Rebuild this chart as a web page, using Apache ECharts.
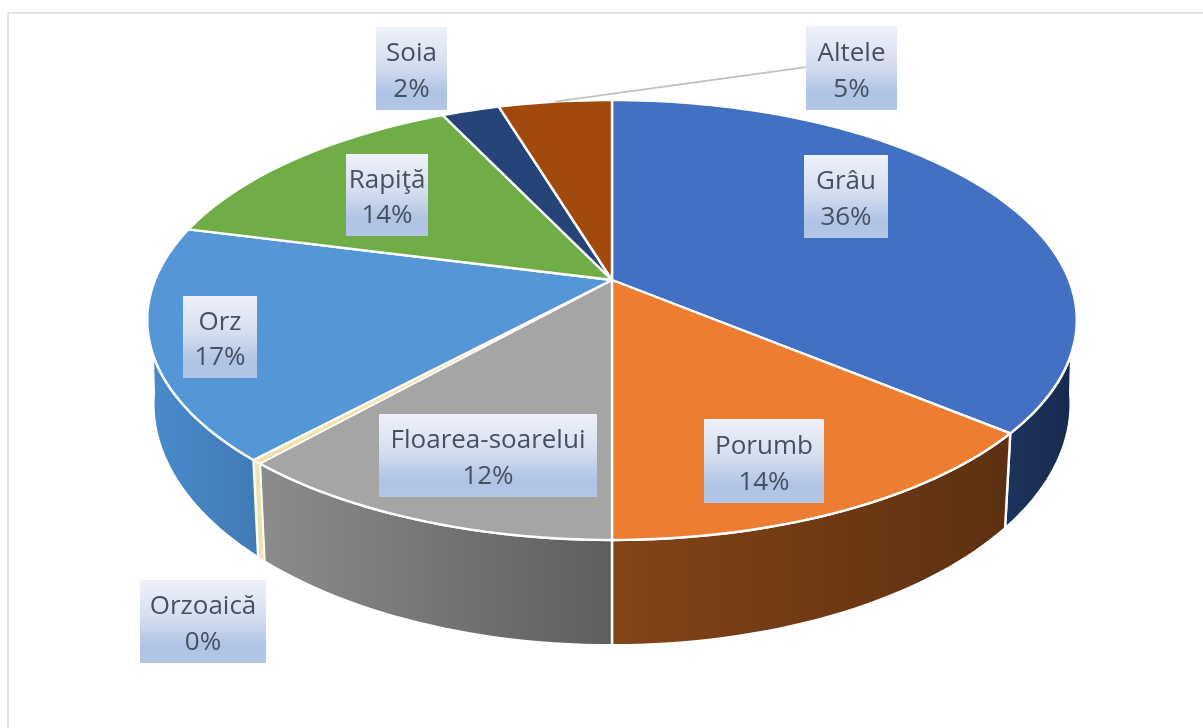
<!DOCTYPE html>
<html>
<head>
<meta charset="utf-8">
<style>
html,body{margin:0;padding:0;background:#fff;overflow:hidden}
#chart{width:1203px;height:728px;filter:blur(0.55px)}
</style>
<script src="https://cdn.jsdelivr.net/npm/echarts@6/dist/echarts.min.js"></script>
</head>
<body>
<div id="chart"></div>
<script>
// Data
const categories = ['Grâu', 'Porumb', 'Floarea-soarelui', 'Orzoaică', 'Orz', 'Rapiţă', 'Soia', 'Altele'];
const shares = [36, 14, 11.6, 0.3, 17.1, 13.9, 2.4, 4.7];

// Styles and layout (separate from the data)
const topColors = ['#4270c2', '#ed7d31', '#a5a5a5', '#f0e2ae', '#5596d6', '#70ad47', '#264478', '#a04a0e'];
const wallColors = [
  ['#1d3460', '#18294d'], ['#834418', '#5c300f'], ['#8c8c8c', '#5e5e5e'], ['#f0e2ae', '#f0e2ae'],
  ['#4a8aca', '#3f7bb6'], ['#70ad47', '#70ad47'], ['#264478', '#264478'], ['#a04a0e', '#a04a0e']
];
const labelBoxes = [
  [804, 155, 84, 83], [704, 419, 120, 84], [379, 414, 218, 83], [140, 580, 126, 83],
  [183, 296, 74, 82], [346, 154, 82, 82], [376, 27, 71, 83], [806, 26, 91, 84]
];
const leaderIndex = 7;
const cx = 612, persp = -0.1818;
const topRim = { R: 457, a: 161.8, b: 280 };
const lowRim = { R: 451, a: 168, b: 360 };
const topVis = [109, 251], lowVis = [98, 262];

const total = shares.reduce((s, v) => s + v, 0);
const starts = [];
shares.reduce((acc, v, i) => { starts[i] = acc; return acc + v; }, 0);

function project(rim, deg) {
  const t = deg * Math.PI / 180, u = Math.sin(t), v = -Math.cos(t), d = 1 + persp * v;
  return [cx + rim.R * u / d, (rim.a * v + rim.b) / d];
}
function arc(rim, from, to) {
  const n = Math.max(2, Math.ceil(Math.abs(to - from) / 1.5)), pts = [];
  for (let i = 0; i <= n; i++) pts.push(project(rim, from + (to - from) * i / n));
  return pts;
}
function range(i) {
  return [starts[i] / total * 360, (starts[i] + shares[i]) / total * 360];
}
const seriesData = categories.map((name, i) => ({ name, value: shares[i] }));

function renderWall(params) {
  const i = params.dataIndex, [a, b] = range(i);
  if (b <= topVis[0] || a >= topVis[1]) return { type: 'group', children: [] };
  const ta = Math.max(a, topVis[0]), tb = Math.min(b, topVis[1]);
  const la = a < topVis[0] ? lowVis[0] : a, lb = b > topVis[1] ? lowVis[1] : b;
  return {
    type: 'polygon',
    shape: { points: arc(topRim, ta, tb).concat(arc(lowRim, lb, la)) },
    style: {
      fill: new echarts.graphic.LinearGradient(0, 0, 1, 0, [
        { offset: 0, color: wallColors[i][0] }, { offset: 1, color: wallColors[i][1] }
      ]),
      stroke: '#ffffff', lineWidth: i === 3 ? 1.4 : 2.4, lineJoin: 'round'
    }
  };
}
function renderTop(params) {
  const i = params.dataIndex, [a, b] = range(i);
  return {
    type: 'polygon',
    shape: { points: [[cx, topRim.b]].concat(arc(topRim, a, b)) },
    style: { fill: topColors[i], stroke: '#ffffff', lineWidth: i === 3 ? 1.4 : 2.4, lineJoin: 'round' }
  };
}
function renderLabel(params) {
  const i = params.dataIndex, [x, y, w, h] = labelBoxes[i];
  const children = [];
  if (i === leaderIndex) {
    const [a, b] = range(i);
    const p = project(topRim, (a + b) / 2);
    children.push({
      type: 'line',
      shape: { x1: p[0], y1: p[1], x2: x, y2: y + h * 0.49 },
      style: { stroke: '#c0c0c0', lineWidth: 1.8 }
    });
  }
  children.push({
    type: 'rect',
    shape: { x, y, width: w, height: h },
    style: {
      fill: new echarts.graphic.LinearGradient(0, 0, 0, 1, [
        { offset: 0, color: '#eef1f9' }, { offset: 0.45, color: '#d5deef' }, { offset: 0.8, color: '#afc3e5' }, { offset: 1, color: '#b4c6e6' }
      ])
    }
  });
  const font = '26px "Open Sans", sans-serif';
  children.push({
    type: 'text',
    style: { text: categories[i], x: x + w / 2, y: y + h * 0.325, align: 'center', verticalAlign: 'middle', font, fill: '#475062' }
  });
  children.push({
    type: 'text',
    style: { text: Math.round(shares[i] / total * 100) + '%', x: x + w / 2, y: y + h * 0.755, align: 'center', verticalAlign: 'middle', font, fill: '#475062' }
  });
  return { type: 'group', children };
}

const chart = echarts.init(document.getElementById('chart'), null, { renderer: 'canvas' });
const customBase = { type: 'custom', coordinateSystem: 'none', silent: true, data: seriesData.map(d => [d.value]) };
chart.setOption({
  backgroundColor: '#ffffff',
  animation: false,
  graphic: [
    { type: 'line', shape: { x1: 8, y1: 13, x2: 1203, y2: 13 }, style: { stroke: '#e3e3e3', lineWidth: 2 } },
    { type: 'line', shape: { x1: 8, y1: 13, x2: 8, y2: 728 }, style: { stroke: '#e3e3e3', lineWidth: 2 } }
  ],
  series: [
    Object.assign({ z: 2, renderItem: renderWall }, customBase),
    Object.assign({ z: 3, renderItem: renderTop }, customBase),
    Object.assign({ z: 4, renderItem: renderLabel }, customBase)
  ]
});
</script>
</body>
</html>
